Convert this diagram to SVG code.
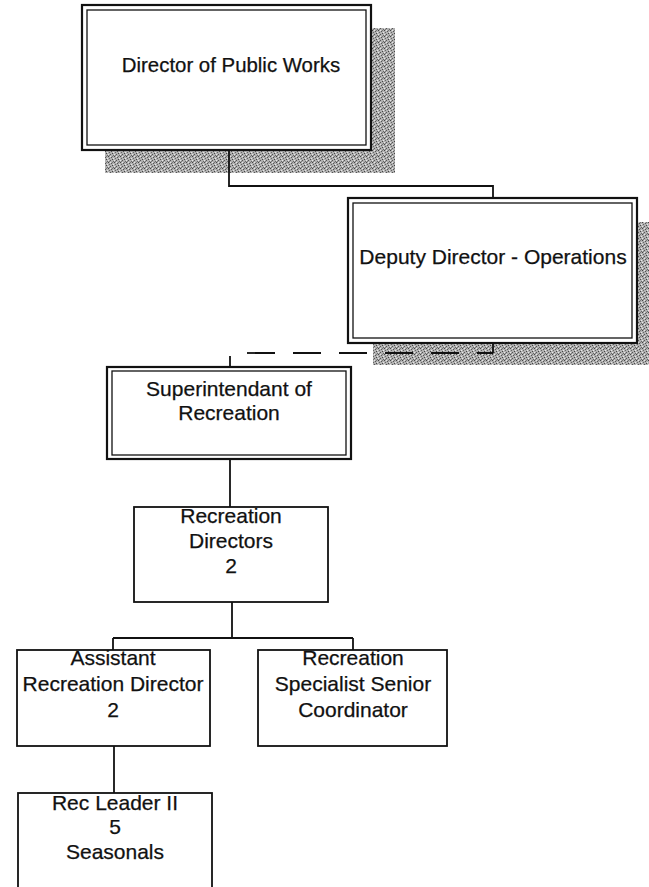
<svg xmlns="http://www.w3.org/2000/svg" width="649" height="887" viewBox="0 0 649 887">
  <style>
    .lbl { font-family: "Liberation Sans", Arial, sans-serif; font-size: 21px; fill: #111; stroke: #111; stroke-width: 0.25; text-anchor: middle; }
    .outer { fill: #fff; stroke: #111; stroke-width: 2.2; }
    .inner { fill: none; stroke: #111; stroke-width: 1.3; }
    .box { fill: #fff; stroke: #111; stroke-width: 1.8; }
    .wire { fill: none; stroke: #111; stroke-width: 1.8; }
    .shadow { fill: url(#stipple); }
  </style>
  <defs>
    <!-- speckled grey used for the drop shadows -->
    <pattern id="stipple" width="6" height="6" patternUnits="userSpaceOnUse">
      <rect width="6" height="6" fill="#b0b0b0"/>
      <rect x="0" y="0" width="1" height="1" fill="#444"/>
      <rect x="3" y="1" width="1" height="1" fill="#555"/>
      <rect x="1" y="2" width="1" height="1" fill="#666"/>
      <rect x="4" y="3" width="1" height="1" fill="#444"/>
      <rect x="2" y="4" width="1" height="1" fill="#555"/>
      <rect x="5" y="5" width="1" height="1" fill="#666"/>
      <rect x="1" y="5" width="1" height="1" fill="#777"/>
      <rect x="4" y="0" width="1" height="1" fill="#777"/>
      <rect x="5" y="2" width="1" height="1" fill="#e8e8e8"/>
      <rect x="2" y="0" width="1" height="1" fill="#e8e8e8"/>
      <rect x="0" y="4" width="1" height="1" fill="#e8e8e8"/>
    </pattern>
  </defs>

  <rect width="649" height="887" fill="#fff"/>

  <!-- drop shadows -->
  <g id="shadows">
    <rect class="shadow" x="372" y="28" width="23" height="145"/>
    <rect class="shadow" x="105" y="151" width="290" height="22"/>
    <rect class="shadow" x="638" y="222" width="11" height="143"/>
    <rect class="shadow" x="373" y="344" width="276" height="21"/>
  </g>

  <!-- connectors -->
  <g id="connectors">
    <path class="wire" d="M229,150 V186 H493 V198"/>
    <path class="wire" d="M493,343 V353"/>
    <path class="wire" d="M493,353 H230" stroke-dasharray="28 18" stroke-dashoffset="12"/>
    <path class="wire" d="M230,356 V367"/>
    <path class="wire" d="M230,459 V507"/>
    <path class="wire" d="M232,602 V638 M113,638 H353 M113,638 V650 M353,638 V650"/>
    <path class="wire" d="M114,746 V793"/>
  </g>

  <g id="director">
    <rect class="outer" x="82" y="5" width="289" height="145"/>
    <rect class="inner" x="87" y="10" width="279" height="135"/>
    <text class="lbl" x="231" y="72" style="font-size:20.4px">Director of Public Works</text>
  </g>

  <g id="deputy">
    <rect class="outer" x="348" y="198" width="289" height="145"/>
    <rect class="inner" x="353" y="203" width="279" height="135"/>
    <text class="lbl" x="493" y="264">Deputy Director - Operations</text>
  </g>

  <g id="superintendent">
    <rect class="outer" x="107" y="367" width="244" height="92"/>
    <rect class="inner" x="112" y="371" width="234" height="84"/>
    <text class="lbl" x="229" y="396">Superintendant of</text>
    <text class="lbl" x="229" y="420">Recreation</text>
  </g>

  <g id="rec-directors">
    <rect class="box" x="134" y="507" width="194" height="95"/>
    <text class="lbl" x="231" y="523">Recreation</text>
    <text class="lbl" x="231" y="548">Directors</text>
    <text class="lbl" x="231" y="573">2</text>
  </g>

  <g id="asst-director">
    <rect class="box" x="17" y="650" width="193" height="96"/>
    <text class="lbl" x="113" y="665">Assistant</text>
    <text class="lbl" x="113" y="691">Recreation Director</text>
    <text class="lbl" x="113" y="717">2</text>
  </g>

  <g id="rec-specialist">
    <rect class="box" x="258" y="650" width="189" height="96"/>
    <text class="lbl" x="353" y="665">Recreation</text>
    <text class="lbl" x="353" y="691">Specialist Senior</text>
    <text class="lbl" x="353" y="717">Coordinator</text>
  </g>

  <g id="rec-leader">
    <rect class="box" x="18" y="793" width="194" height="110"/>
    <text class="lbl" x="115" y="810">Rec Leader II</text>
    <text class="lbl" x="115" y="834">5</text>
    <text class="lbl" x="115" y="859">Seasonals</text>
  </g>
</svg>
